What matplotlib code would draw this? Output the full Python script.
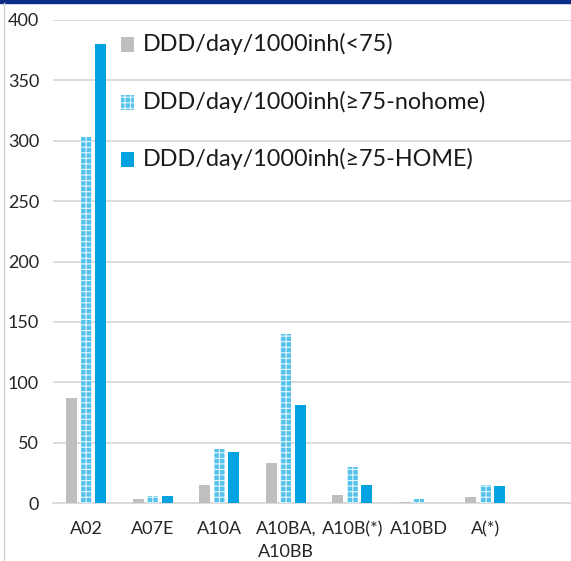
import matplotlib
matplotlib.use("Agg")
import matplotlib.pyplot as plt
import numpy as np
from matplotlib.patches import Rectangle
from matplotlib.lines import Line2D

categories = ["A02", "A07E", "A10A", "A10BA,\nA10BB", "A10B(*)", "A10BD", "A(*)"]
under75 = [87, 3.3, 14.6, 33.4, 6.9, 1.1, 5.0]
over75_nohome = [303, 5.8, 45, 139.6, 30, 3.0, 14.6]
over75_home = [380, 5.5, 42.5, 80.9, 14.9, 0, 13.8]
series_labels = ["DDD/day/1000inh(<75)", "DDD/day/1000inh(≥75-nohome)", "DDD/day/1000inh(≥75-HOME)"]
yticks = [0, 50, 100, 150, 200, 250, 300, 350, 400]

plt.rcParams["font.family"] = ["Lato", "DejaVu Sans"]
plt.rcParams["hatch.linewidth"] = 0.8

W, H = 571, 561
fig = plt.figure(figsize=(W / 100, H / 100), dpi=100)
ax = fig.add_axes([53 / W, (H - 503) / H, 1 - 53 / W, (503 - 20) / H])

x = np.arange(len(categories))
bw = 0.158
step = 0.218
gray = "#BFBFBF"
blue = "#00A3E0"
check_face = "#55C2EC"
check_hatch = "#E3F5FD"

ax.bar(x - step, under75, bw, color=gray, zorder=3)
ax.bar(x, over75_nohome, bw, facecolor=check_face, edgecolor=check_hatch, hatch="+++",
       linewidth=0, zorder=3)
ax.bar(x + step, over75_home, bw, color=blue, zorder=3)

ax.set_ylim(0, 400)
ax.set_xlim(-0.5, -0.5 + (W - 53) / 66.5)
ax.set_yticks(yticks)
ax.set_xticks(x)
ax.set_xticklabels(categories, linespacing=1.5)
ax.tick_params(axis="both", length=0, labelsize=13, colors="#262626")
ax.tick_params(axis="y", pad=10)
ax.tick_params(axis="x", pad=13)

ax.yaxis.grid(True, color="#D9D9D9", linewidth=1.3, zorder=0)
for s in ["top", "right", "left"]:
    ax.spines[s].set_visible(False)
ax.spines["bottom"].set_color("#D9D9D9")
ax.spines["bottom"].set_linewidth(1.3)

# legend drawn as handles + text inside the plot area
leg_y = [44, 102, 159]
handle_styles = [dict(facecolor=gray, linewidth=0),
                 dict(facecolor=check_face, edgecolor=check_hatch, hatch="+++", linewidth=0),
                 dict(facecolor=blue, linewidth=0)]
for yy, lbl, st in zip(leg_y, series_labels, handle_styles):
    fig.patches.append(Rectangle((121 / W, (H - yy - 8) / H), 13 / W, 15 / H,
                                 transform=fig.transFigure, **st))
    fig.text(143 / W, (H - yy) / H, lbl, fontsize=16.8, va="center", ha="left", color="#1A1A1A")

# frame: navy top bar and thin gray left border
fig.patches.append(Rectangle((0, (H - 3) / H), 1, 3 / H, transform=fig.transFigure, color="#0B2D87"))
fig.lines.append(Line2D([3.5 / W, 3.5 / W], [0, (H - 3) / H], transform=fig.transFigure,
                        color="#D0D0D0", linewidth=1))

fig.savefig("out.png", dpi=100)
